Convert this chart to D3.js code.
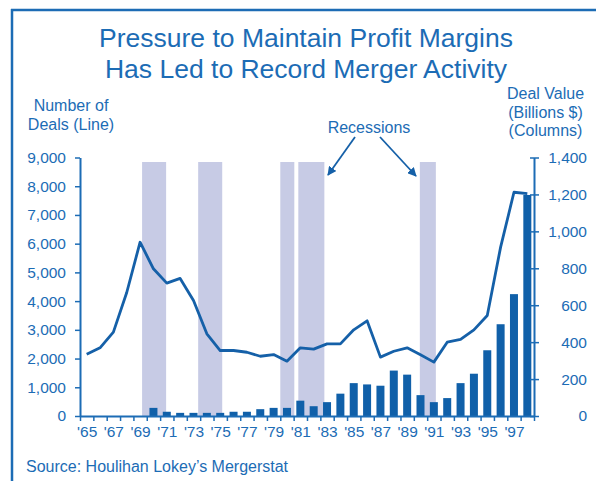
<!DOCTYPE html>
<html>
<head>
<meta charset="utf-8">
<script src="https://cdn.jsdelivr.net/npm/d3@7"></script>
<style>
  body { margin: 0; background: #fff; }
  text { font-family: "Liberation Sans", Arial, sans-serif; fill: #1c6cb5; }
</style>
</head>
<body>
<div id="app"></div>
<script>
// data
const years = d3.range(1965, 1999)
const deals = [2150, 2375, 2920, 4300, 6050, 5125, 4625, 4790, 4020, 2860,
  2280, 2280, 2220, 2080, 2140, 1910, 2375, 2330, 2510, 2510,
  3000, 3315, 2050, 2255, 2375, 2130, 1875, 2570, 2665, 3000,
  3500, 5880, 7790, 7740]
const dealValue = [0, 0, 0, 0, 0, 44, 23, 17, 17, 17,
  17, 23, 23, 37, 44, 44, 83, 53, 75, 121,
  178, 171, 164, 246, 224, 113, 75, 97, 178, 229,
  356, 497, 660, 1197]
const recessions = [[1969.65, 1971.45], [1973.85, 1975.65], [1980.0, 1981.05],
  [1981.35, 1983.3], [1990.45, 1991.65]]
const labelYears = d3.range(1965, 1998, 2)
const leftTicks = d3.range(0, 9001, 1000)
const rightTicks = d3.range(0, 1401, 200)

const blue = "#1c6cb5"
const barBlue = "#1060a9"
const lineBlue = "#1560a8"
const shade = "#c7cbe5"

const width = 596
const height = 481
const dims = { left: 80, right: 534, top: 157.5, bottom: 416 }

const svg = d3.select("#app").append("svg")
  .attr("width", width)
  .attr("height", height)

// frame
svg.append("line").attr("x1", 11).attr("x2", width).attr("y1", 10).attr("y2", 10)
  .attr("stroke", blue).attr("stroke-width", 2.5)
svg.append("line").attr("x1", 12).attr("x2", 12).attr("y1", 9).attr("y2", height)
  .attr("stroke", blue).attr("stroke-width", 2.5)

// title
const title = svg.append("text")
  .attr("text-anchor", "middle")
  .style("font-size", "26.5px")
title.append("tspan").attr("x", 306).attr("y", 47).text("Pressure to Maintain Profit Margins")
title.append("tspan").attr("x", 306).attr("y", 77.5).text("Has Led to Record Merger Activity")

// scales
const xScale = d3.scaleLinear()
  .domain([1965, 1999])
  .range([dims.left, dims.right])

const yLeft = d3.scaleLinear()
  .domain([0, 9000])
  .range([dims.bottom, dims.top])

const yRight = d3.scaleLinear()
  .domain([0, 1400])
  .range([dims.bottom, dims.top])

// recession bands
svg.append("g").selectAll("rect")
  .data(recessions)
  .join("rect")
    .attr("x", d => xScale(d[0]))
    .attr("width", d => xScale(d[1]) - xScale(d[0]))
    .attr("y", 162)
    .attr("height", dims.bottom - 162)
    .attr("fill", shade)

// bars
const barWidth = 8
svg.append("g").selectAll("rect")
  .data(years.map((y, i) => ({ year: y, value: dealValue[i] })).filter(d => d.value > 0))
  .join("rect")
    .attr("x", d => xScale(d.year + 0.5) - barWidth / 2)
    .attr("width", barWidth)
    .attr("y", d => yRight(d.value))
    .attr("height", d => dims.bottom - yRight(d.value))
    .attr("fill", barBlue)

// line
const lineGen = d3.line()
  .x((d, i) => xScale(years[i] + 0.5))
  .y(d => yLeft(d))

svg.append("path")
  .datum(deals)
  .attr("d", lineGen)
  .attr("fill", "none")
  .attr("stroke", lineBlue)
  .attr("stroke-width", 2.8)
  .attr("stroke-linejoin", "round")

// axes
function styleAxis(g) {
  g.select(".domain").attr("stroke", blue).attr("stroke-width", 2)
  g.selectAll(".tick line").attr("stroke", blue).attr("stroke-width", 1.5)
  g.selectAll(".tick text")
    .attr("fill", blue)
    .style("font-size", "15.5px")
    .style("font-family", "'Liberation Sans', Arial, sans-serif")
}

const leftAxis = svg.append("g")
  .attr("transform", `translate(${dims.left},0)`)
  .call(d3.axisLeft(yLeft).tickValues(leftTicks).tickFormat(d3.format(","))
    .tickSize(5).tickSizeOuter(0).tickPadding(9))
  .call(styleAxis)

const rightAxis = svg.append("g")
  .attr("transform", `translate(${dims.right},0)`)
  .call(d3.axisRight(yRight).tickValues(rightTicks).tickFormat(d3.format(","))
    .tickSize(5).tickSizeOuter(0).tickPadding(9))
  .call(styleAxis)
rightAxis.selectAll(".tick line").attr("x1", -4)
rightAxis.selectAll(".tick text").attr("x", 53).attr("text-anchor", "end")

const bottomAxis = svg.append("g")
  .attr("transform", `translate(0,${dims.bottom})`)
  .call(d3.axisBottom(xScale).tickValues(d3.range(1965, 2000)).tickFormat("")
    .tickSize(5).tickSizeOuter(0))
  .call(styleAxis)

const yearLabels = svg.append("g")
  .attr("transform", `translate(0,${dims.bottom})`)
  .call(d3.axisBottom(xScale).tickValues(labelYears.map(y => y + 0.5))
    .tickFormat(d => "'" + String(Math.floor(d)).slice(2))
    .tickSize(0).tickPadding(10))
  .call(styleAxis)
yearLabels.select(".domain").remove()

// axis titles
const leftTitle = svg.append("text")
  .attr("text-anchor", "middle")
  .style("font-size", "16px")
leftTitle.append("tspan").attr("x", 71).attr("y", 111).text("Number of")
leftTitle.append("tspan").attr("x", 71).attr("y", 129.5).text("Deals (Line)")

const rightTitle = svg.append("text")
  .attr("text-anchor", "middle")
  .style("font-size", "16px")
rightTitle.append("tspan").attr("x", 545.5).attr("y", 99).text("Deal Value")
rightTitle.append("tspan").attr("x", 545.5).attr("y", 117.5).text("(Billions $)")
rightTitle.append("tspan").attr("x", 545.5).attr("y", 136).text("(Columns)")

// recessions annotation
svg.append("text")
  .attr("x", 369)
  .attr("y", 133)
  .attr("text-anchor", "middle")
  .style("font-size", "16px")
  .text("Recessions")

const defs = svg.append("defs")
defs.append("marker")
  .attr("id", "arrow")
  .attr("viewBox", "0 0 10 10")
  .attr("refX", 9)
  .attr("refY", 5)
  .attr("markerWidth", 5)
  .attr("markerHeight", 5)
  .attr("orient", "auto")
  .append("path")
    .attr("d", "M0,0 L10,5 L0,10 z")
    .attr("fill", lineBlue)

const arrows = [[355, 137, 328, 175], [380, 137, 416, 176]]
svg.append("g").selectAll("line")
  .data(arrows)
  .join("line")
    .attr("x1", d => d[0]).attr("y1", d => d[1])
    .attr("x2", d => d[2]).attr("y2", d => d[3])
    .attr("stroke", lineBlue)
    .attr("stroke-width", 1.8)
    .attr("marker-end", "url(#arrow)")

// source
svg.append("text")
  .attr("x", 26)
  .attr("y", 472)
  .style("font-size", "16px")
  .text("Source: Houlihan Lokey\u2019s Mergerstat")
</script>
</body>
</html>
